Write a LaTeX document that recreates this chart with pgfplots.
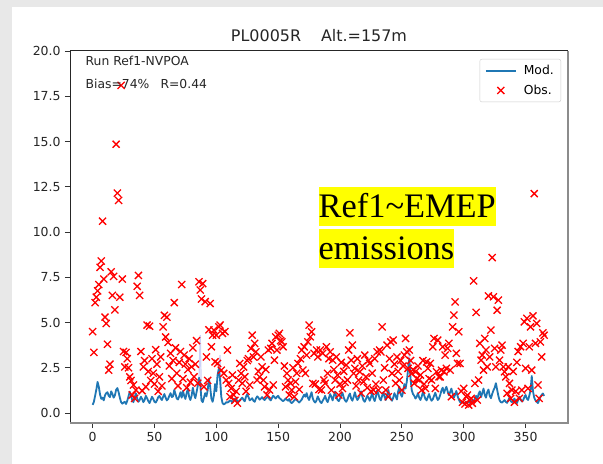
\documentclass[border=0pt]{standalone}
\usepackage{fontspec}
\setmainfont{DejaVu Sans}
\newfontfamily\serifface{Liberation Serif}
\usepackage{pgfplots}
\pgfplotsset{compat=1.18}

\definecolor{modblue}{RGB}{31,119,180}
\definecolor{bggray}{RGB}{232,232,232}
\definecolor{legframe}{RGB}{204,204,204}
\definecolor{spread}{RGB}{205,210,248}
\definecolor{hilite}{RGB}{255,255,0}

\pgfplotsset{
  modkey/.style={legend image code/.code={\draw[##1, line width=2bp] (0bp,0bp) -- (30bp,0bp);}},
  obskey/.style={legend image code/.code={\draw[##1] plot coordinates {(15bp,0bp)};}},
}

\begin{document}
\begin{tikzpicture}
% page frame
\useasboundingbox (0,0) rectangle (603bp,464bp);
\fill[bggray] (0,0) rectangle (603bp,464bp);
\fill[white] (12bp,0) rectangle (603bp,457bp);

\begin{axis}[
  at={(70bp,41bp)}, anchor=south west,
  scale only axis, width=498bp, height=372bp,
  xmin=-18.3, xmax=384.3, ymin=-0.55, ymax=20,
  xtick={0,50,...,350}, ytick={0,2.5,...,20},
  yticklabel style={xshift=-1bp, /pgf/number format/fixed,
    /pgf/number format/fixed zerofill, /pgf/number format/precision=1},
  /pgf/number format/assume math mode=true,
  tick label style={font=\fontsize{12.5}{14}\selectfont, text=black!85},
  tick align=outside, xtick pos=bottom, ytick pos=left,
  major tick length=5bp,
  tick style={black!80, line width=0.8bp},
  xticklabel style={yshift=-1bp},
  axis line style={draw=none},
  clip=false,
  after end axis/.code={
    \draw[black!85, line width=1bp] (rel axis cs:0,0) -- (rel axis cs:0,1) -- (rel axis cs:1,1);
    \draw[black!45, line width=1.4bp] (rel axis cs:1,1) -- (rel axis cs:1,0) -- (rel axis cs:0,0);
  },
  legend style={at={(1,1)}, anchor=north east, xshift=-7bp, yshift=-8bp,
    draw=legframe, rounded corners=2bp, fill=white,
    font=\fontsize{12.4}{14}\selectfont, row sep=5bp, column sep=5bp,
    inner xsep=5bp, inner ysep=4bp, cells={anchor=west}},
  legend cell align=left,
]

% model spread, visible only where it leaves the line
\addplot[spread, line width=1.2bp, forget plot] coordinates {(86,1.95)(87,4.3)(88,0.7)};
\addplot[spread, line width=1.2bp, forget plot] coordinates {(102,2.45)(103,3.2)(104,0.9)};
\addplot[spread, line width=1.2bp, forget plot] coordinates {(255,2.4)(256,3.45)(257,1.9)};

% modelled daily concentration
\addplot[modblue, line width=1.8bp, line join=round, modkey] coordinates {
(0,0.45)(1,0.62)(2,0.95)(3,1.30)(4,1.72)(5,1.45)(6,1.02)(7,0.78)(8,0.85)(9,0.70)
(10,0.98)(11,1.10)(12,1.15)(13,0.95)(14,0.88)(15,1.20)(16,1.05)(17,0.85)(18,0.98)(19,1.28)
(20,1.38)(21,1.15)(22,0.85)(23,0.60)(24,0.52)(25,0.58)(26,0.62)(27,0.50)(28,0.68)(29,0.92)
(30,1.18)(31,0.98)(32,0.72)(33,0.60)(34,0.88)(35,1.08)(36,0.80)(37,0.62)(38,0.72)(39,0.90)
(40,0.78)(41,0.60)(42,0.72)(43,0.95)(44,0.82)(45,0.66)(46,0.55)(47,0.72)(48,0.90)(49,0.78)
(50,0.62)(51,0.58)(52,0.70)(53,0.88)(54,0.95)(55,0.80)(56,0.72)(57,0.90)(58,1.05)(59,0.85)
(60,0.70)(61,0.78)(62,0.95)(63,1.10)(64,0.88)(65,0.92)(66,1.28)(67,1.05)(68,0.80)(69,0.75)
(70,0.92)(71,1.15)(72,0.85)(73,1.22)(74,0.95)(75,0.78)(76,1.10)(77,1.35)(78,0.90)(79,0.72)
(80,0.95)(81,1.40)(82,1.05)(83,0.82)(84,1.15)(85,1.50)(86,1.95)(87,1.60)(88,0.70)(89,0.60)
(90,0.85)(91,1.10)(92,0.92)(93,1.25)(94,1.90)(95,1.45)(96,0.80)(97,0.62)(98,0.95)(99,1.60)
(100,1.20)(101,2.10)(102,2.45)(103,1.85)(104,0.90)(105,0.55)(106,0.48)(107,0.52)(108,0.60)(109,0.58)
(110,0.62)(111,0.70)(112,0.66)(113,0.58)(114,0.72)(115,0.80)(116,0.75)(117,0.68)(118,0.62)(119,0.70)
(120,0.78)(121,0.85)(122,0.72)(123,0.65)(124,0.90)(125,1.05)(126,0.88)(127,0.70)(128,0.75)(129,0.82)
(130,0.68)(131,0.62)(132,0.80)(133,0.92)(134,0.85)(135,0.74)(136,0.80)(137,0.88)(138,0.78)(139,0.72)
(140,0.80)(141,0.86)(142,0.92)(143,0.76)(144,0.70)(145,0.84)(146,0.96)(147,0.88)(148,0.80)(149,0.90)
(150,0.95)(151,0.82)(152,0.78)(153,0.70)(154,0.66)(155,0.72)(156,0.80)(157,0.74)(158,0.68)(159,0.78)
(160,0.60)(161,0.55)(162,0.62)(163,0.70)(164,0.78)(165,0.72)(166,0.64)(167,0.58)(168,0.66)(169,0.74)
(170,0.88)(171,1.02)(172,0.90)(173,1.10)(174,0.85)(175,0.72)(176,0.96)(177,1.15)(178,0.80)(179,0.65)
(180,0.58)(181,0.70)(182,0.92)(183,0.76)(184,0.62)(185,0.55)(186,0.68)(187,0.80)(188,0.95)(189,0.72)
(190,0.60)(191,0.82)(192,1.05)(193,0.90)(194,0.70)(195,0.95)(196,1.18)(197,0.88)(198,0.72)(199,0.66)
(200,0.80)(201,0.98)(202,1.12)(203,0.85)(204,0.70)(205,0.62)(206,0.75)(207,0.95)(208,1.08)(209,0.80)
(210,0.68)(211,0.90)(212,1.15)(213,0.88)(214,0.72)(215,0.82)(216,1.00)(217,1.20)(218,0.92)(219,0.70)
(220,0.62)(221,0.78)(222,0.96)(223,0.85)(224,0.68)(225,0.88)(226,1.10)(227,0.82)(228,0.66)(229,0.90)
(230,1.25)(231,1.05)(232,0.80)(233,0.70)(234,0.95)(235,1.15)(236,0.90)(237,0.72)(238,1.00)(239,1.28)
(240,0.95)(241,0.78)(242,0.68)(243,0.85)(244,1.10)(245,0.92)(246,0.75)(247,1.20)(248,1.45)(249,1.05)
(250,0.90)(251,1.15)(252,1.60)(253,1.35)(254,1.75)(255,2.40)(256,3.00)(257,1.90)(258,1.25)(259,1.05)
(260,0.95)(261,0.80)(262,0.90)(263,1.10)(264,0.85)(265,0.72)(266,0.90)(267,1.15)(268,0.98)(269,0.78)
(270,0.70)(271,0.88)(272,1.05)(273,0.82)(274,0.68)(275,0.76)(276,0.95)(277,1.12)(278,0.90)(279,0.72)
(280,0.80)(281,1.00)(282,1.25)(283,1.40)(284,1.10)(285,1.30)(286,1.45)(287,1.20)(288,0.98)(289,1.15)
(290,1.35)(291,1.08)(292,0.85)(293,1.00)(294,1.22)(295,0.95)(296,0.75)(297,0.62)(298,0.55)(299,0.60)
(300,0.58)(301,0.52)(302,0.62)(303,0.55)(304,0.66)(305,0.60)(306,0.54)(307,0.70)(308,0.65)(309,0.80)
(310,0.95)(311,0.78)(312,1.05)(313,1.20)(314,0.88)(315,1.10)(316,1.35)(317,1.00)(318,0.85)(319,1.15)
(320,1.30)(321,0.95)(322,0.82)(323,1.05)(324,1.25)(325,1.40)(326,1.65)(327,1.30)(328,0.95)(329,0.70)
(330,0.60)(331,0.58)(332,0.65)(333,0.72)(334,0.62)(335,0.56)(336,0.70)(337,0.85)(338,0.66)(339,0.60)
(340,0.68)(341,0.80)(342,0.62)(343,0.55)(344,0.72)(345,0.90)(346,0.75)(347,0.64)(348,0.70)(349,0.88)
(350,1.00)(351,0.80)(352,0.72)(353,0.95)(354,1.25)(355,2.05)(356,1.20)(357,0.85)(358,0.70)(359,0.62)
(360,0.55)(361,0.72)(362,0.90)(363,1.00)(364,1.08)(365,0.95)
};
\addlegendentry{Mod.}

% observed daily concentration
\addplot[red, only marks, mark=x, mark size=5bp, mark options={line width=1.3bp}, obskey] coordinates {
(0,4.5)(1,3.35)(2,6.1)(3,6.4)(4,6.75)(5,7.1)(6,8.05)(7,8.4)(8,10.6)(9,7.4)
(10,5.3)(11,4.95)(12,3.8)(13,2.37)(14,2.7)(15,7.8)(16,6.5)(17,7.55)(18,5.7)(19,14.85)
(20,12.15)(21,11.75)(22,6.4)(23,18.1)(24,7.4)(25,3.4)(26,2.55)(27,3.35)(28,3.0)(29,2.5)
(30,2.0)(31,1.8)(32,1.0)(33,1.55)(34,0.81)(35,1.27)(36,7.0)(37,7.6)(38,6.5)(39,3.4)
(40,1.23)(41,2.55)(42,2.9)(43,1.45)(44,4.86)(45,2.3)(46,4.8)(47,1.8)(48,3.0)(49,2.2)
(50,1.6)(51,3.5)(52,2.7)(53,1.2)(54,2.0)(55,3.1)(56,1.5)(57,4.76)(58,5.4)(59,4.2)
(60,5.3)(61,3.9)(62,2.6)(63,3.3)(64,1.9)(65,2.9)(66,6.1)(67,3.6)(68,2.2)(69,1.5)
(70,2.8)(71,3.4)(72,7.1)(73,1.9)(74,3.2)(75,2.7)(76,1.4)(77,2.4)(78,3.0)(79,1.7)
(80,2.55)(81,3.6)(82,2.0)(83,2.7)(84,4.0)(85,1.65)(86,7.25)(87,6.8)(88,6.3)(89,7.15)
(90,1.45)(91,6.15)(92,3.1)(93,1.8)(94,4.6)(95,6.05)(96,3.66)(97,4.3)(98,4.58)(99,2.83)
(100,4.3)(101,2.74)(102,4.76)(103,4.86)(104,2.37)(105,4.4)(106,2.19)(107,4.5)(108,1.82)(109,3.48)
(110,1.64)(111,0.9)(112,1.36)(113,2.1)(114,1.0)(115,0.7)(116,1.2)(117,0.55)(118,1.82)(119,2.74)
(120,2.19)(121,1.64)(122,2.55)(123,2.0)(124,1.2)(125,2.9)(126,3.0)(127,1.55)(128,3.57)(129,4.3)
(130,3.1)(131,3.85)(132,3.38)(133,1.82)(134,2.3)(135,2.0)(136,3.1)(137,2.55)(138,1.82)(139,1.45)
(140,2.4)(141,1.0)(142,3.48)(143,1.27)(144,3.57)(145,3.85)(146,1.55)(147,2.92)(148,4.2)(149,3.48)
(150,4.3)(151,4.4)(152,4.0)(153,3.93)(154,3.66)(155,2.6)(156,1.45)(157,2.19)(158,1.82)(159,1.0)
(160,1.64)(161,1.27)(162,2.5)(163,0.9)(164,1.73)(165,2.2)(166,2.74)(167,1.3)(168,3.0)(169,3.48)
(170,2.37)(171,3.66)(172,2.19)(173,3.2)(174,3.93)(175,4.86)(176,4.21)(177,4.49)(178,1.64)(179,3.3)
(180,1.6)(181,3.48)(182,3.1)(183,1.3)(184,3.48)(185,1.27)(186,3.3)(187,1.82)(188,1.64)(189,3.66)
(190,2.19)(191,3.0)(192,3.38)(193,1.27)(194,2.92)(195,2.4)(196,1.82)(197,3.1)(198,2.1)(199,0.99)
(200,1.6)(201,2.8)(202,1.36)(203,2.3)(204,1.7)(205,2.65)(206,1.82)(207,3.48)(208,4.43)(209,2.92)
(210,3.75)(211,2.19)(212,2.47)(213,1.5)(214,3.0)(215,1.82)(216,2.28)(217,1.1)(218,2.6)(219,1.73)
(220,3.2)(221,2.0)(222,1.4)(223,2.9)(224,2.74)(225,1.2)(226,2.2)(227,1.27)(228,3.0)(229,1.6)
(230,3.38)(231,1.27)(232,3.48)(233,3.38)(234,4.76)(235,1.82)(236,2.5)(237,1.27)(238,3.75)(239,0.9)
(240,3.0)(241,3.93)(242,2.19)(243,4.03)(244,2.7)(245,1.64)(246,3.1)(247,2.3)(248,1.82)(249,2.9)
(250,1.27)(251,2.6)(252,3.2)(253,4.12)(254,3.38)(255,2.47)(256,3.48)(257,2.9)(258,2.19)(259,2.4)
(260,1.64)(261,2.28)(262,1.9)(263,2.6)(264,1.82)(265,2.1)(266,1.27)(267,2.9)(268,1.6)(269,1.36)
(270,2.83)(271,2.47)(272,1.9)(273,2.74)(274,1.82)(275,3.66)(276,4.12)(277,1.36)(278,2.28)(279,4.03)
(280,2.0)(281,2.0)(282,2.37)(283,3.66)(284,2.28)(285,3.2)(286,2.47)(287,3.57)(288,3.85)(289,2.37)
(290,0.9)(291,4.76)(292,5.41)(293,6.14)(294,3.3)(295,2.74)(296,4.49)(297,2.74)(298,1.2)(299,0.6)
(300,1.36)(301,0.5)(302,0.9)(303,0.99)(304,0.44)(305,0.72)(306,0.81)(307,0.54)(308,7.3)(309,1.64)
(310,5.56)(311,0.72)(312,1.82)(313,3.85)(314,2.92)(315,3.2)(316,2.37)(317,4.12)(318,3.48)(319,2.55)
(320,6.47)(321,3.1)(322,4.58)(323,8.59)(324,6.42)(325,3.57)(326,2.55)(327,5.68)(328,6.24)(329,2.92)
(330,3.48)(331,3.75)(332,2.55)(333,2.28)(334,2.0)(335,1.09)(336,2.55)(337,1.64)(338,0.81)(339,1.27)
(340,2.3)(341,0.6)(342,1.2)(343,2.8)(344,3.4)(345,0.81)(346,3.66)(347,1.27)(348,3.85)(349,5.04)
(350,2.47)(351,5.23)(352,1.36)(353,3.66)(354,4.76)(355,2.37)(356,5.37)(357,12.12)(358,3.85)(359,4.95)
(360,1.55)(361,0.81)(362,3.93)(363,3.1)(364,4.43)(365,4.3)
};
\addlegendentry{Obs.}
\end{axis}

% title and run information
\node[font=\fontsize{16}{18}\selectfont, text=black!85] at (319bp,428.3bp) {PL0005R\hspace{1.25em}Alt.=157m};
\node[anchor=west, inner sep=0pt, font=\fontsize{12.4}{14}\selectfont, text=black!85] at (85.5bp,403.3bp) {Run Ref1-NVPOA};
\node[anchor=west, inner sep=0pt, font=\fontsize{12.4}{14}\selectfont, text=black!85] at (85.5bp,379.7bp) {Bias=74\%\hspace{0.9em}R=0.44};

% highlighted note
\node[anchor=north west, fill=hilite, inner sep=0pt, text height=30.5bp, text depth=8bp,
      font=\serifface\fontsize{34.5}{38}\selectfont] at (318.5bp,276.7bp) {Ref1\textasciitilde EMEP\hspace{0.3em}};
\node[anchor=north west, fill=hilite, inner sep=0pt, text height=30.5bp, text depth=8bp,
      font=\serifface\fontsize{34.5}{38}\selectfont] at (318.5bp,235bp) {emissions};
\end{tikzpicture}
\end{document}
